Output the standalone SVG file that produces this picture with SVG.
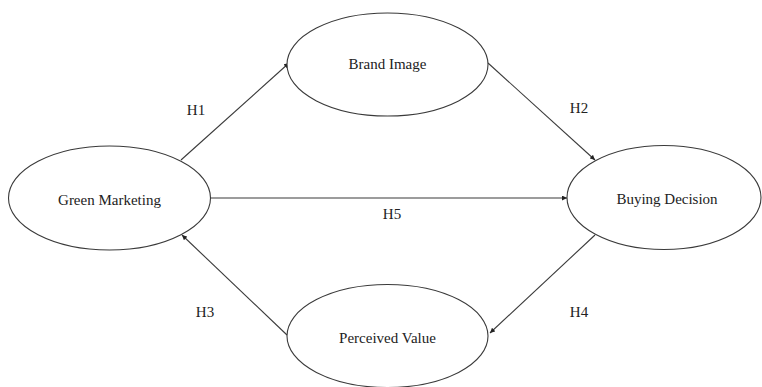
<svg xmlns="http://www.w3.org/2000/svg" width="762" height="387" viewBox="0 0 762 387">
<style>
.node{fill:#fff;stroke:#3a3a3a;stroke-width:1.1}
.lbl{font-family:"Liberation Serif","Times New Roman",serif;font-size:15px;fill:#222;text-anchor:middle;dominant-baseline:central}
.edge{stroke:#3a3a3a;stroke-width:1.1;fill:none;marker-end:url(#ah)}
</style>
<defs>
<marker id="ah" viewBox="0 0 10 10" refX="10" refY="5" markerWidth="6" markerHeight="5" markerUnits="userSpaceOnUse" orient="auto">
<path d="M0,0 L10,5 L0,10 z" fill="#222"/>
</marker>
</defs>
<rect width="762" height="387" fill="#fff"/>
<g id="connectors">
<line class="edge" x1="181" y1="160" x2="289" y2="63"/>
<line class="edge" x1="488" y1="63" x2="595" y2="160"/>
<line class="edge" x1="211" y1="198" x2="567" y2="198"/>
<line class="edge" x1="287" y1="335" x2="182" y2="235"/>
<line class="edge" x1="595" y1="235" x2="490" y2="333"/>
<text class="lbl" x="196" y="110">H1</text>
<text class="lbl" x="579" y="108">H2</text>
<text class="lbl" x="392" y="214">H5</text>
<text class="lbl" x="205" y="312">H3</text>
<text class="lbl" x="579" y="312">H4</text>
</g>
<g id="green-marketing">
<ellipse class="node" cx="109.5" cy="198" rx="101" ry="52"/>
<text class="lbl" x="109.5" y="200">Green Marketing</text>
</g>
<g id="brand-image">
<ellipse class="node" cx="387.5" cy="64.5" rx="100.5" ry="51.5"/>
<text class="lbl" x="387.5" y="64">Brand Image</text>
</g>
<g id="buying-decision">
<ellipse class="node" cx="664" cy="197.5" rx="97" ry="52"/>
<text class="lbl" x="667" y="199">Buying Decision</text>
</g>
<g id="perceived-value">
<ellipse class="node" cx="387.5" cy="336" rx="100.5" ry="51.5"/>
<text class="lbl" x="387.5" y="338">Perceived Value</text>
</g>
</svg>
